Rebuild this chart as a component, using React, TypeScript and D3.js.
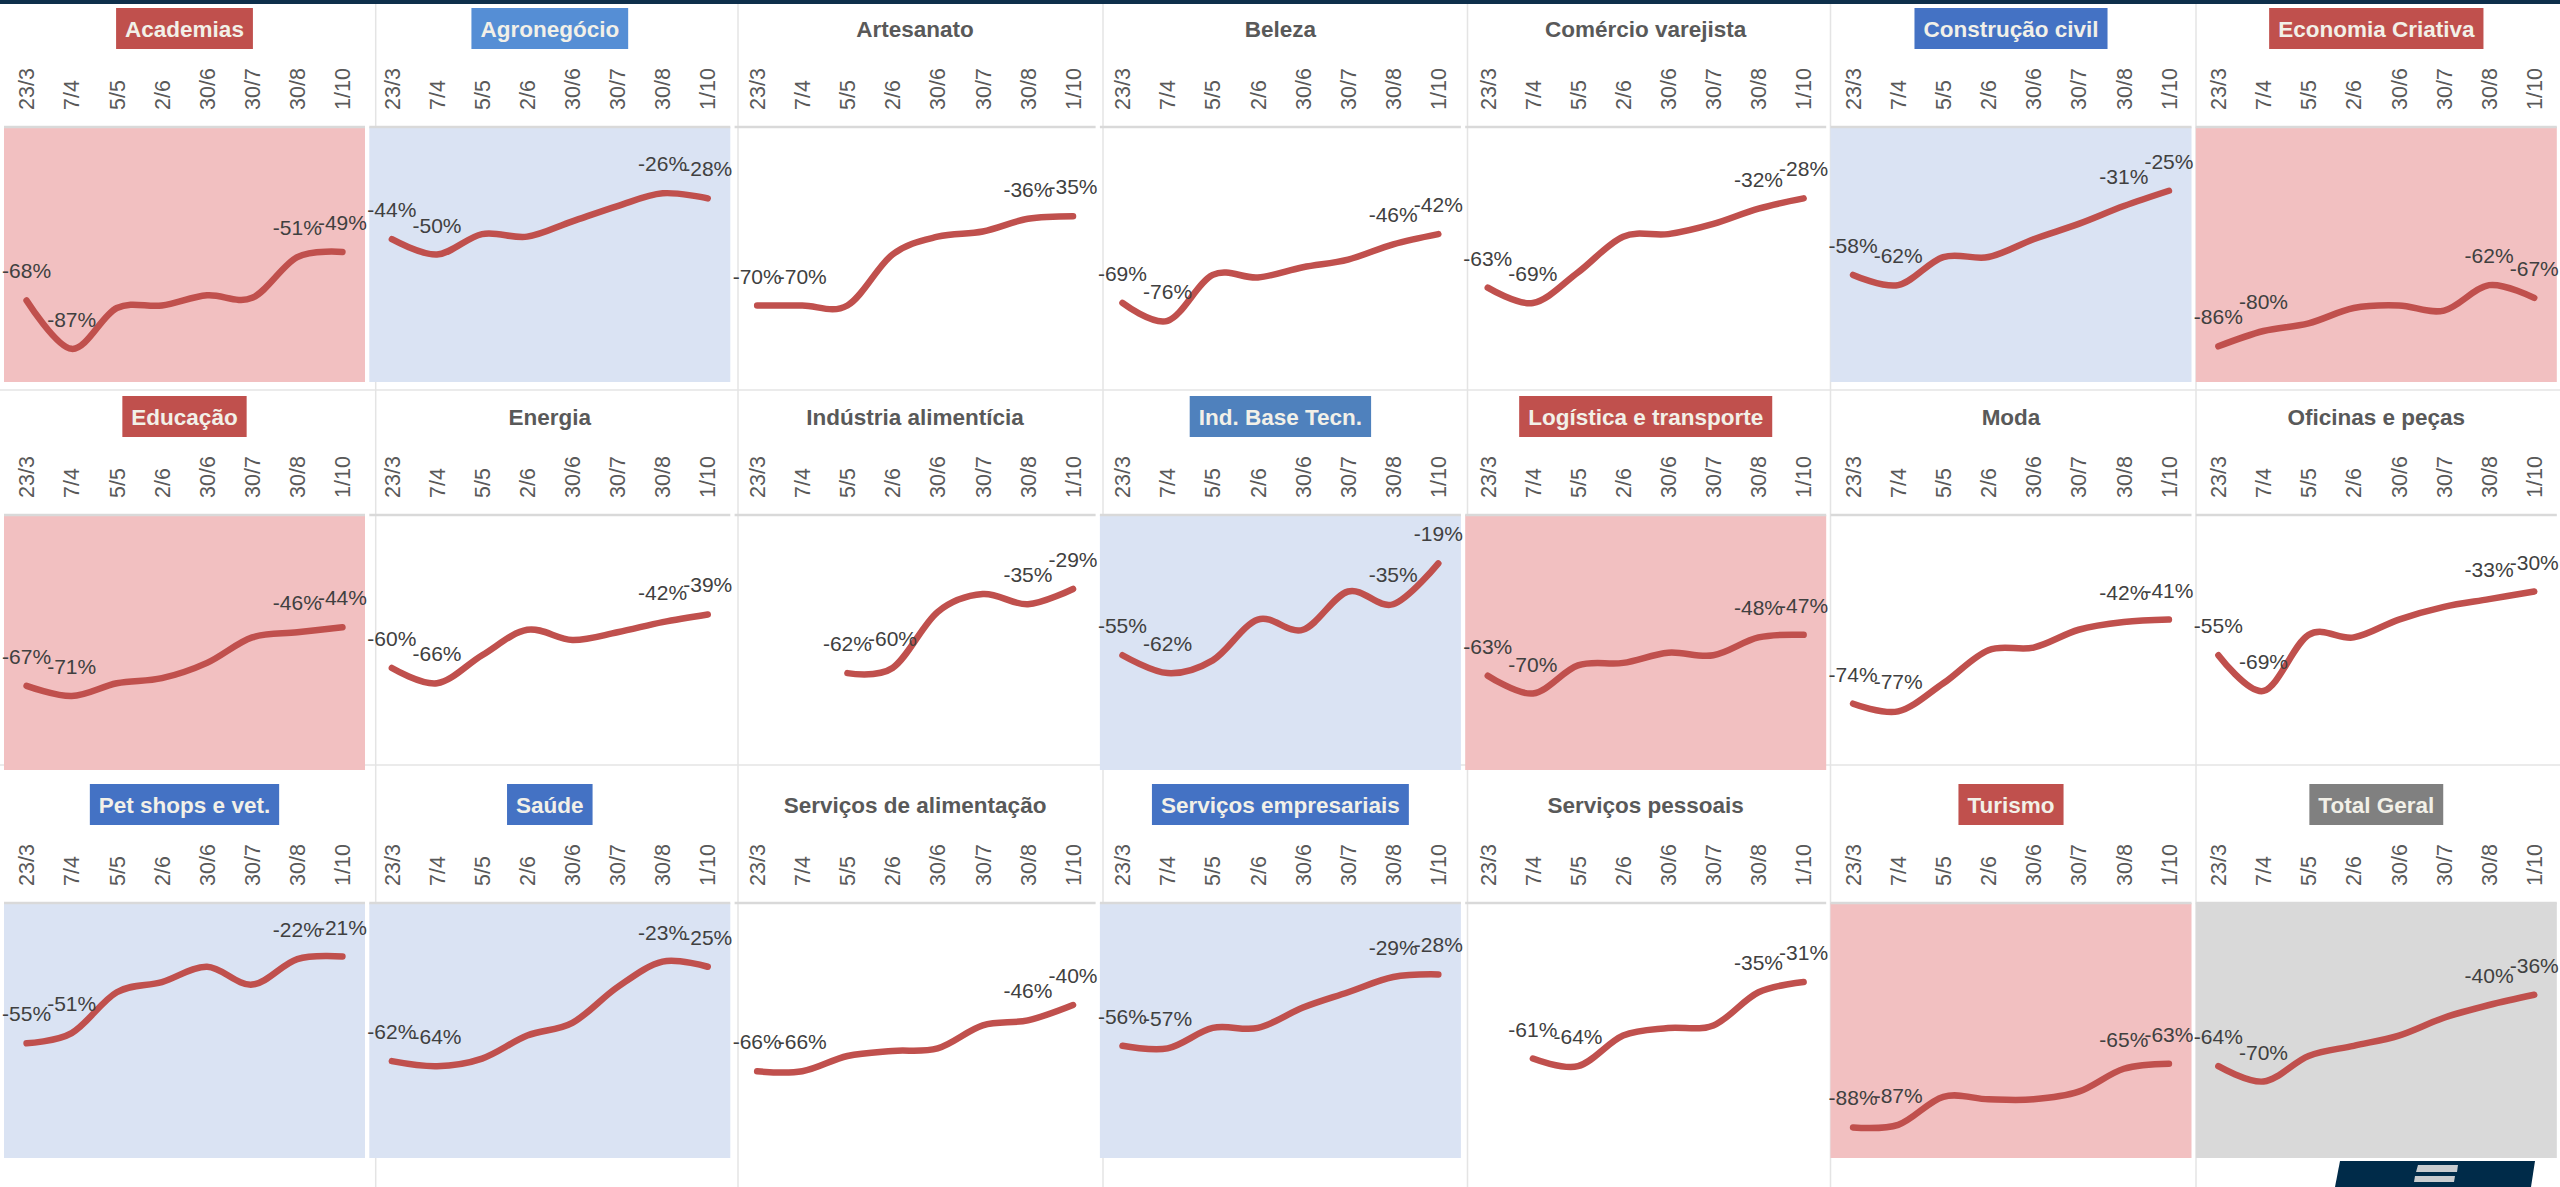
import React, { useEffect, useRef } from 'react';
import * as d3 from 'd3';

const W = 2560;
const H = 1187;

const dates = ['23/3', '7/4', '5/5', '2/6', '30/6', '30/7', '30/8', '1/10'];

// one series per sector, share of change (%) at each date
const academias = [-68, -87, -71, -70, -66, -67, -51, -49];
const agronegocio = [-44, -50, -42, -43, -37, -31, -26, -28];
const artesanato = [-70, -70, -70, -50, -43, -41, -36, -35];
const beleza = [-69, -76, -58, -59, -55, -52, -46, -42];
const comercio = [-63, -69, -57, -43, -42, -38, -32, -28];
const construcao = [-58, -62, -51, -51, -44, -38, -31, -25];
const economiaCriativa = [-86, -80, -77, -71, -70, -72, -62, -67];
const educacao = [-67, -71, -66, -64, -58, -48, -46, -44];
const energia = [-60, -66, -55, -45, -49, -46, -42, -39];
const industriaAlim = [null, null, -62, -60, -38, -31, -35, -29];
const baseTecn = [-55, -62, -57, -41, -45, -30, -35, -19];
const logistica = [-63, -70, -59, -58, -54, -55, -48, -47];
const moda = [-74, -77, -66, -53, -52, -45, -42, -41];
const oficinas = [-55, -69, -47, -48, -41, -36, -33, -30];
const petShops = [-55, -51, -35, -31, -25, -32, -22, -21];
const saude = [-62, -64, -61, -52, -47, -33, -23, -25];
const servAlimentacao = [-66, -66, -60, -58, -57, -48, -46, -40];
const servEmpresariais = [-56, -57, -49, -49, -41, -35, -29, -28];
const servPessoais = [null, -61, -64, -52, -49, -48, -35, -31];
const turismo = [-88, -87, -76, -77, -77, -74, -65, -63];
const totalGeral = [-64, -70, -60, -56, -52, -45, -40, -36];

const sectors = [
  'Academias', 'Agronegócio', 'Artesanato', 'Beleza', 'Comércio varejista', 'Construção civil', 'Economia Criativa',
  'Educação', 'Energia', 'Indústria alimentícia', 'Ind. Base Tecn.', 'Logística e transporte', 'Moda', 'Oficinas e peças',
  'Pet shops e vet.', 'Saúde', 'Serviços de alimentação', 'Serviços empresariais', 'Serviços pessoais', 'Turismo', 'Total Geral',
];

const series: (number | null)[][] = [
  academias, agronegocio, artesanato, beleza, comercio, construcao, economiaCriativa,
  educacao, energia, industriaAlim, baseTecn, logistica, moda, oficinas,
  petShops, saude, servAlimentacao, servEmpresariais, servPessoais, turismo, totalGeral,
];

// highlight group: red = worse, blue = better, total, or plain
const groups = [
  'red', 'blue2', '', '', '', 'blue', 'red',
  'red', '', '', 'blue3', 'red', '', '',
  'blue', 'blue', '', 'blue', '', 'red', 'total',
];

const boxFill: Record<string, string> = {
  red: '#C0504D', blue: '#4472C4', blue2: '#558ED5', blue3: '#4F81BD', total: '#808080',
};
const plotFill: Record<string, string> = {
  red: '#F2C0C1', blue: '#DAE3F3', blue2: '#DAE3F3', blue3: '#DAE3F3', total: '#D9D9D9',
};

const FONT = "'Liberation Sans', Arial, sans-serif";

const App = () => {
  const svgRef = useRef<SVGSVGElement>(null);

  useEffect(() => {
    const svg = d3.select(svgRef.current);
    svg.selectAll('*').remove();

    const colPitch = 365.3;
    const plotW = 361;
    const rowPitch = 388;
    const plotTopOff = 127;
    const plotH = 255;

    svg.append('rect').attr('width', W).attr('height', H).attr('fill', '#ffffff');

    // sheet cell borders
    const cellEdgesX = [375.7, 738, 1103, 1467.5, 1830.5, 2196];
    const cellEdgesY = [390, 765];
    cellEdgesX.forEach(x => {
      svg.append('line').attr('x1', x).attr('x2', x).attr('y1', 4).attr('y2', H)
        .attr('stroke', '#E4E4E4').attr('stroke-width', 1.5);
    });
    cellEdgesY.forEach(y => {
      svg.append('line').attr('x1', 0).attr('x2', W).attr('y1', y).attr('y2', y)
        .attr('stroke', '#E4E4E4').attr('stroke-width', 1.5);
    });

    svg.append('rect').attr('x', 0).attr('y', 0).attr('width', W).attr('height', 4).attr('fill', '#0E2F4B');

    const bgLayer = svg.append('g');
    const fgLayer = svg.append('g');

    const y0 = d3.scaleLinear().domain([-100, 0]);

    sectors.forEach((name, i) => {
      const col = i % 7;
      const row = Math.floor(i / 7);
      const left = 4 + col * colPitch;
      const top = row * rowPitch;
      const plotTop = top + plotTopOff;
      const plotBottom = plotTop + plotH;
      const g = groups[i];
      const vals = series[i];

      const x = d3.scalePoint<string>().domain(dates).range([left, left + plotW]).padding(0.5);
      const y = y0.copy().range([plotBottom, plotTop]);

      if (plotFill[g]) {
        bgLayer.append('rect')
          .attr('x', left).attr('y', plotTop).attr('width', plotW).attr('height', plotH)
          .attr('fill', plotFill[g]);
      }
      // category axis at 0%
      bgLayer.append('line')
        .attr('x1', left).attr('x2', left + plotW).attr('y1', y(0)).attr('y2', y(0))
        .attr('stroke', '#D9D9D9').attr('stroke-width', 2.5);

      // title
      const cx = left + plotW / 2;
      const titleY = top + 28.5;
      const boxG = fgLayer.append('g');
      const title = fgLayer.append('text')
        .attr('x', cx).attr('y', titleY).attr('dy', '0.36em')
        .attr('text-anchor', 'middle')
        .style('font-family', FONT).style('font-weight', 'bold').style('font-size', '22.5px')
        .attr('fill', boxFill[g] ? '#F2F0E8' : '#595959')
        .text(name);
      if (boxFill[g]) {
        const tw = (title.node() as SVGTextElement).getComputedTextLength();
        boxG.append('rect')
          .attr('x', cx - tw / 2 - 9).attr('y', top + 8).attr('width', tw + 18).attr('height', 41)
          .attr('fill', boxFill[g]);
      }

      // rotated date ticks
      dates.forEach(d => {
        fgLayer.append('text')
          .attr('transform', `translate(${x(d)},${top + 110}) rotate(-90)`)
          .attr('dy', '0.36em')
          .attr('text-anchor', 'start')
          .style('font-family', FONT).style('font-size', '21.5px')
          .attr('fill', '#595959')
          .text(d);
      });

      const pts = dates.map((d, k) => ({ d, v: vals[k] }));
      const line = d3.line<{ d: string; v: number | null }>()
        .defined(p => p.v != null)
        .x(p => x(p.d) as number)
        .y(p => y(p.v as number))
        .curve(d3.curveCardinal.tension(0));

      fgLayer.append('path')
        .attr('d', line(pts))
        .attr('fill', 'none')
        .attr('stroke', '#C0504D')
        .attr('stroke-width', 6.5)
        .attr('stroke-linecap', 'round')
        .attr('stroke-linejoin', 'round');

      // labels: first two and last two points
      const defined = pts.filter(p => p.v != null);
      const labelled = [defined[0], defined[1], defined[defined.length - 2], defined[defined.length - 1]];
      labelled.forEach(p => {
        fgLayer.append('text')
          .attr('x', x(p.d) as number)
          .attr('y', y(p.v as number) - 22)
          .attr('text-anchor', 'middle')
          .style('font-family', FONT).style('font-size', '21px')
          .attr('fill', '#404040')
          .text(`${p.v}%`);
      });
    });

    // logo stub at the bottom right
    const logo = svg.append('g');
    logo.append('polygon').attr('points', '2340,1161 2535,1161 2531,1187 2335,1187').attr('fill', '#002B49');
    logo.append('polygon').attr('points', '2418,1165 2458,1165 2457,1172 2416,1172').attr('fill', '#C9CCCF');
    logo.append('polygon').attr('points', '2415,1176 2455,1176 2454,1182 2414,1182').attr('fill', '#C9CCCF');
  }, []);

  return (
    <div style={{ position: 'absolute', left: 0, top: 0 }}>
      <svg ref={svgRef} width={W} height={H} style={{ display: 'block' }}></svg>
    </div>
  );
};

export default App;
